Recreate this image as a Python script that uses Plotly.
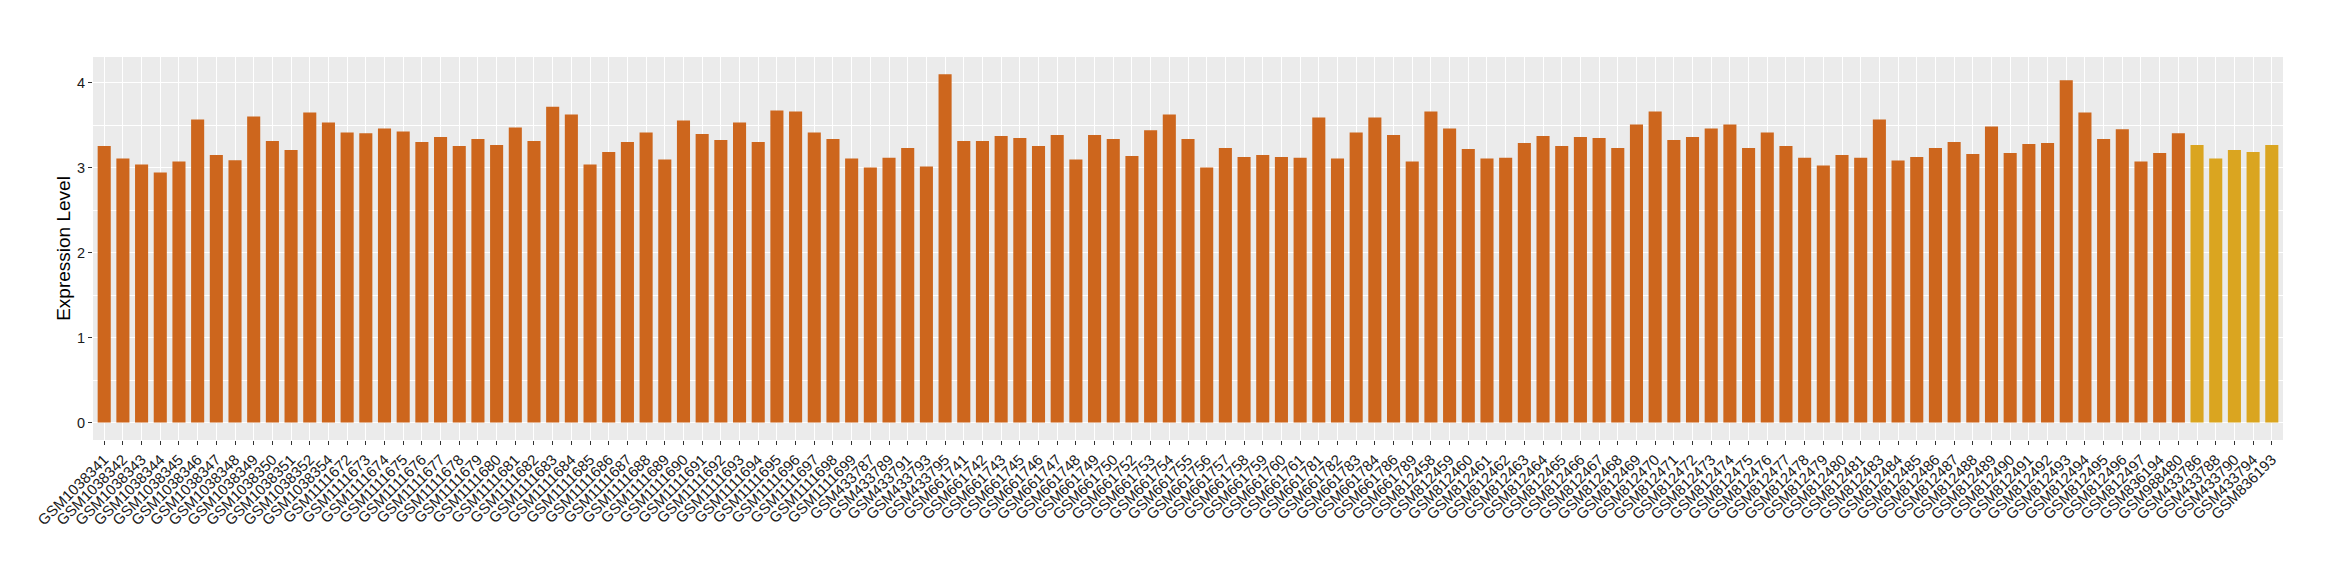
import plotly.graph_objects as go

# Group A (orange) samples and values
samples_a = [
    "GSM1038341", "GSM1038342", "GSM1038343", "GSM1038344", "GSM1038345", "GSM1038346",
    "GSM1038347", "GSM1038348", "GSM1038349", "GSM1038350", "GSM1038351", "GSM1038352",
    "GSM1038354",
    "GSM1111672", "GSM1111673", "GSM1111674", "GSM1111675", "GSM1111676", "GSM1111677",
    "GSM1111678", "GSM1111679", "GSM1111680", "GSM1111681", "GSM1111682", "GSM1111683",
    "GSM1111684", "GSM1111685", "GSM1111686", "GSM1111687", "GSM1111688", "GSM1111689",
    "GSM1111690", "GSM1111691", "GSM1111692", "GSM1111693", "GSM1111694", "GSM1111695",
    "GSM1111696", "GSM1111697", "GSM1111698", "GSM1111699",
    "GSM433787", "GSM433789", "GSM433791", "GSM433793", "GSM433795",
    "GSM661741", "GSM661742", "GSM661743", "GSM661745", "GSM661746", "GSM661747",
    "GSM661748", "GSM661749", "GSM661750", "GSM661752", "GSM661753", "GSM661754",
    "GSM661755", "GSM661756", "GSM661757", "GSM661758", "GSM661759", "GSM661760",
    "GSM661761", "GSM661781", "GSM661782", "GSM661783", "GSM661784", "GSM661786",
    "GSM661789",
    "GSM812458", "GSM812459", "GSM812460", "GSM812461", "GSM812462", "GSM812463",
    "GSM812464", "GSM812465", "GSM812466", "GSM812467", "GSM812468", "GSM812469",
    "GSM812470", "GSM812471", "GSM812472", "GSM812473", "GSM812474", "GSM812475",
    "GSM812476", "GSM812477", "GSM812478", "GSM812479", "GSM812480", "GSM812481",
    "GSM812483", "GSM812484", "GSM812485", "GSM812486", "GSM812487", "GSM812488",
    "GSM812489", "GSM812490", "GSM812491", "GSM812492", "GSM812493", "GSM812494",
    "GSM812495", "GSM812496", "GSM812497",
    "GSM836194", "GSM988480",
]
values_a = [
    3.257, 3.109, 3.038, 2.944, 3.073, 3.570, 3.152, 3.089, 3.605, 3.316, 3.210, 3.652,
    3.535,
    3.417, 3.406, 3.464, 3.429, 3.304, 3.363, 3.257, 3.339, 3.269, 3.476, 3.316, 3.718,
    3.629, 3.038, 3.187, 3.304, 3.417, 3.097, 3.558, 3.398, 3.327, 3.535, 3.304, 3.675,
    3.664, 3.417, 3.339, 3.109,
    3.003, 3.120, 3.234, 3.015, 4.102,
    3.316, 3.316, 3.374, 3.351, 3.257, 3.386, 3.097, 3.386, 3.339, 3.140, 3.441, 3.629,
    3.339, 3.003, 3.234, 3.128, 3.152, 3.128, 3.120, 3.593, 3.109, 3.417, 3.593, 3.386,
    3.073,
    3.664, 3.464, 3.222, 3.109, 3.120, 3.292, 3.374, 3.257, 3.363, 3.351, 3.234, 3.511,
    3.664, 3.327, 3.363, 3.464, 3.511, 3.234, 3.417, 3.257, 3.120, 3.026, 3.152, 3.120,
    3.570, 3.085, 3.128, 3.234, 3.304, 3.163, 3.488, 3.175, 3.281, 3.292, 4.031, 3.652,
    3.339, 3.453, 3.073,
    3.175, 3.406,
]

# Group B (yellow) samples and values
samples_b = ["GSM433786", "GSM433788", "GSM433790", "GSM433794", "GSM836193"]
values_b = [3.269, 3.109, 3.210, 3.187, 3.269]

y_ticks = [0, 1, 2, 3, 4]
y_title = "Expression Level"

color_a = "#CD661D"
color_b = "#DAA520"

categories = samples_a + samples_b

fig = go.Figure()
fig.add_trace(go.Bar(x=samples_a, y=values_a, marker=dict(color=color_a, line=dict(width=0)),
                     showlegend=False))
fig.add_trace(go.Bar(x=samples_b, y=values_b, marker=dict(color=color_b, line=dict(width=0)),
                     showlegend=False))

n = len(categories)
# page body has an 8px default margin; size the figure so the panel lands where the reference has it
fig.update_layout(
    width=2332, height=572,
    margin=dict(l=85, r=57, t=49, b=140),
    paper_bgcolor="white",
    plot_bgcolor="#EBEBEB",
    bargap=0.3,
    font=dict(family="Liberation Sans, Arial, sans-serif", color="#333333"),
    xaxis=dict(
        type="category",
        categoryorder="array", categoryarray=categories,
        range=[-0.6, n - 1 + 0.6],
        tickangle=-45,
        tickfont=dict(size=15, color="#1A1A1A"),
        ticks="outside", ticklen=4, tickcolor="#333333", tickwidth=1,
        showgrid=True, gridcolor="white", gridwidth=1.3,
        zeroline=False, showline=False,
        automargin=False,
    ),
    yaxis=dict(
        range=[-0.205, 4.305],
        tickvals=y_ticks,
        tickfont=dict(size=14.5, color="#1A1A1A"),
        ticks="outside", ticklen=4, tickcolor="#333333", tickwidth=1,
        showgrid=True, gridcolor="white", gridwidth=1.3,
        minor=dict(dtick=0.5, tick0=0, showgrid=True, gridcolor="white", gridwidth=0.6, ticks=""),
        zeroline=False, showline=False,
        automargin=False,
        title=dict(text=y_title, font=dict(size=19, color="black"), standoff=1),
    ),
)

fig.write_html("out.html")
